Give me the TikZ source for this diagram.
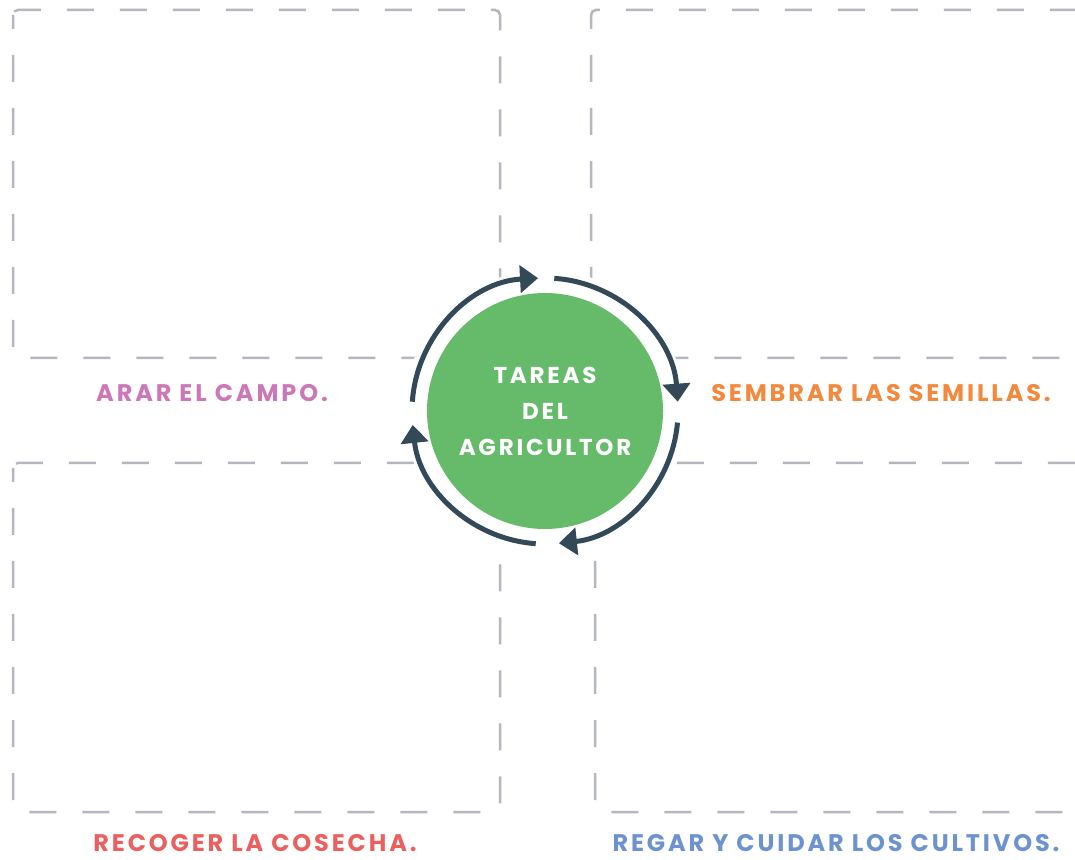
\documentclass[tikz,border=0pt]{standalone}
\usepackage{fontspec}
\setmainfont{Poppins}
\newfontfamily\lblfont[LetterSpace=12]{Poppins}
\usetikzlibrary{arrows.meta}
\definecolor{boxgray}{RGB}{180,184,190}
\definecolor{arrowdark}{RGB}{52,73,88}
\definecolor{circgreen}{RGB}{102,187,106}
\definecolor{lblpink}{RGB}{204,120,184}
\definecolor{lblorange}{RGB}{242,137,60}
\definecolor{lblred}{RGB}{234,96,96}
\definecolor{lblblue}{RGB}{108,147,207}
\begin{document}
\begin{tikzpicture}[x=1pt,y=1pt,
  dashbox/.style={draw=boxgray, line width=2.5pt, dash pattern=on 27pt off 26pt, dash phase=13pt, rounded corners=5pt},
  cyclearrow/.style={draw=arrowdark, line width=5pt, -{Triangle[width=27pt,length=18pt]}},
  lbl/.style={font=\lblfont\bfseries\fontsize{24}{26}\selectfont, anchor=center, inner sep=0pt}]
\clip (0,0) rectangle (1075,859);
\fill[white] (0,0) rectangle (1075,859);
% dashed boxes
\draw[dashbox] (13,849) rectangle (500,501);
\draw[dashbox] (591,849) rectangle (1095,501);
\draw[dashbox] (13,396) rectangle (500,47);
\draw[dashbox] (595,396) rectangle (1095,47);
% labels
\node[lbl, text=lblpink] (l1) at (212,466) {ARAR EL CAMPO.};
\node[lbl, text=lblorange] (l2) at (881,466) {SEMBRAR LAS SEMILLAS.};
\node[lbl, text=lblred] (l3) at (255,16) {RECOGER LA COSECHA.};
\node[lbl, text=lblblue] (l4) at (836,16) {REGAR Y CUIDAR LOS CULTIVOS.};
% hub
\fill[white] (545,448) circle (141);
\node[circle, fill=circgreen, minimum size=236pt, inner sep=0pt] (hub) at (545,448) {};
\node[text=white, align=center, inner sep=0pt, font=\lblfont\bfseries\fontsize{23}{36}\selectfont] (hubtext) at (hub.center) {TAREAS\\DEL\\AGRICULTOR};
% cycle arrows
\draw[cyclearrow] ([shift={(176:133)}]hub.center) arc[start angle=176, end angle=93, radius=133];
\draw[cyclearrow] ([shift={(86:133)}]hub.center) arc[start angle=86, end angle=4, radius=133];
\draw[cyclearrow] ([shift={(-5:133)}]hub.center) arc[start angle=-5, end angle=-84, radius=133];
\draw[cyclearrow] ([shift={(-94:133)}]hub.center) arc[start angle=-94, end angle=-174, radius=133];
\end{tikzpicture}
\end{document}
